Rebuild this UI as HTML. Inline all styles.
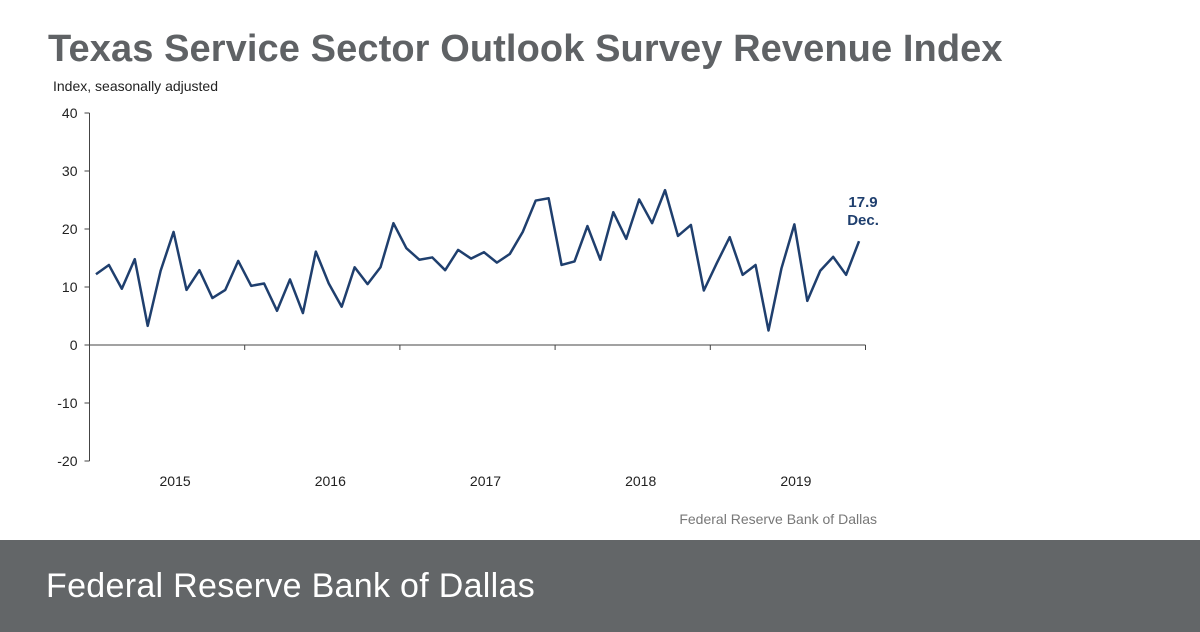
<!DOCTYPE html>
<html><head><meta charset="utf-8"><style>
body{margin:0;width:1200px;height:632px;background:#fff;overflow:hidden;font-family:"Liberation Sans",sans-serif;position:relative}
#title{position:absolute;left:48px;top:28px;font-size:38px;font-weight:bold;color:#5f6265;letter-spacing:0.1px}
#footer{position:absolute;left:0;top:540px;width:1200px;height:92px;background:#636668}
#footer span{position:absolute;left:46px;top:27px;font-size:34px;color:#fff;letter-spacing:0.3px}
</style></head><body>
<div id="title">Texas Service Sector Outlook Survey Revenue Index</div>
<svg id="chart" width="1200" height="540" style="position:absolute;left:0;top:0" font-family="Liberation Sans, sans-serif"></svg>
<div id="footer"><span>Federal Reserve Bank of Dallas</span></div>
<script>
const values=[12.2,13.8,9.7,14.8,3.3,12.8,19.5,9.5,12.9,8.1,9.5,14.5,10.2,10.6,5.9,11.3,5.5,16.1,10.6,6.6,13.4,10.5,13.4,21.0,16.7,14.7,15.1,12.9,16.4,14.9,16.0,14.2,15.7,19.5,24.9,25.3,13.8,14.4,20.5,14.7,22.9,18.3,25.1,21.0,26.7,18.8,20.7,9.4,14.1,18.6,12.1,13.8,2.5,13.2,20.8,7.6,12.8,15.2,12.1,17.9];
const yTicks=[40,30,20,10,0,-10,-20];
const years=["2015","2016","2017","2018","2019"];
const NS="http://www.w3.org/2000/svg";
const svg=document.getElementById('chart');
const x0=89.5,yearW=155.2;
const X=i=>x0+yearW*(i+0.5)/12;
const Y=v=>345-v*5.8;
function mk(t,a,txt){const e=document.createElementNS(NS,t);for(const k in a)e.setAttribute(k,a[k]);if(txt!==undefined)e.textContent=txt;svg.appendChild(e);return e;}
let e=mk('text',{x:53,y:91,'font-size':14,fill:'#222'},'Index, seasonally adjusted');


e=mk('line',{x1:x0,y1:Y(40),x2:x0,y2:Y(-20),stroke:'#444','stroke-width':1});


yTicks.forEach(v=>{
 const t=mk('line',{x1:x0-5,y1:Y(v),x2:x0,y2:Y(v),stroke:'#444'});
 
 
 const l=mk('text',{x:x0-12,y:Y(v)+5,'font-size':14,fill:'#222','text-anchor':'end'},v);
 
 
});
e=mk('line',{x1:x0,y1:Y(0),x2:x0+yearW*years.length,y2:Y(0),stroke:'#444'});


years.forEach((yr,k)=>{
 const t=mk('line',{x1:x0+yearW*(k+1),y1:Y(0),x2:x0+yearW*(k+1),y2:Y(0)+5,stroke:'#444'});
 
 
 const l=mk('text',{x:x0+yearW*(k+0.5)+8,y:486,'font-size':14,fill:'#222','text-anchor':'middle'},yr);
 
 
});
const p=mk('polyline',{points:values.map((v,i)=>X(i)+','+Y(v)).join(' '),fill:'none',stroke:'#1f3f6e','stroke-width':2.5,'stroke-linejoin':'round'});


const li=values.length-1;
e=mk('text',{x:X(li)+4,y:Y(values[li])-34,'font-size':15,'font-weight':'bold',fill:'#1f3f6e','text-anchor':'middle'},values[li].toFixed(1));


e=mk('text',{x:X(li)+4,y:Y(values[li])-16,'font-size':15,'font-weight':'bold',fill:'#1f3f6e','text-anchor':'middle'},'Dec.');


e=mk('text',{x:877,y:524,'font-size':14,fill:'#777','text-anchor':'end'},'Federal Reserve Bank of Dallas');


</script>
</body></html>
